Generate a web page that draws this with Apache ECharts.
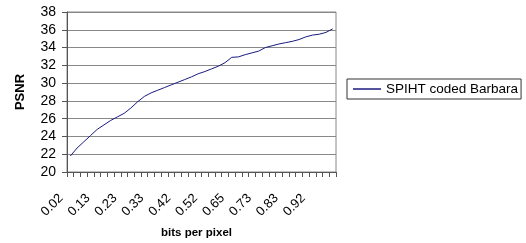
<!DOCTYPE html>
<html>
<head>
<meta charset="utf-8">
<script src="https://cdn.jsdelivr.net/npm/echarts@6/dist/echarts.min.js"></script>
<style>html,body{margin:0;padding:0;background:#fff}#c{width:526px;height:243px}</style>
</head>
<body>
<div id="c"></div>
<script>
var categories = ['0.02','0.05','0.08','0.10','0.13','0.15','0.18','0.20','0.23','0.25',
  '0.28','0.30','0.33','0.35','0.38','0.40','0.42','0.45','0.47','0.50',
  '0.52','0.55','0.58','0.62','0.65','0.67','0.69','0.71','0.73','0.76',
  '0.78','0.81','0.83','0.85','0.88','0.90','0.92','0.95','0.97','1.00'];
var psnr = [21.8,22.7,23.4,24.1,24.8,25.3,25.8,26.2,26.6,27.2,
  27.9,28.5,28.9,29.2,29.5,29.8,30.1,30.4,30.7,31.05,
  31.3,31.6,31.9,32.3,32.9,32.95,33.2,33.4,33.6,34.0,
  34.2,34.4,34.55,34.7,34.9,35.2,35.4,35.5,35.7,36.1];
var seriesName = 'SPIHT coded Barbara';
var yMin = 20, yMax = 38, yStep = 2;

var chart = echarts.init(document.getElementById('c'), null, {renderer: 'canvas'});
var FONT = 'Liberation Sans, Arial, sans-serif';
chart.setOption({
  animation: false,
  backgroundColor: '#fff',
  grid: {left: 67, top: 12, width: 269, height: 160, show: true, borderColor: '#888', borderWidth: 1,
         containLabel: false, outerBoundsMode: 'none'},
  legend: {
    left: 347, top: 79, orient: 'vertical',
    data: [seriesName],
    icon: 'rect', itemWidth: 28, itemHeight: 1.5,
    padding: [3, 3, 3, 6],
    borderColor: '#333', borderWidth: 1, borderRadius: 0,
    textStyle: {fontFamily: FONT, fontSize: 13.5, color: '#000'}
  },
  xAxis: {
    type: 'category', data: categories, boundaryGap: true,
    name: 'bits per pixel', nameLocation: 'middle', nameGap: 55,
    nameTextStyle: {fontFamily: FONT, fontSize: 11.5, fontWeight: 'bold', color: '#000', padding: [0, 10, 0, 0]},
    axisLine: {lineStyle: {color: '#555', width: 1}},
    axisTick: {show: true, interval: 0, length: 5, inside: false, lineStyle: {color: '#555'}},
    axisLabel: {interval: 3, rotate: 45, margin: 15, fontFamily: FONT, fontSize: 13, color: '#000',
                padding: [0, 13, 0, 0], hideOverlap: false},
    splitLine: {show: false}
  },
  yAxis: {
    type: 'value', min: yMin, max: yMax, interval: yStep,
    name: 'PSNR', nameLocation: 'middle', nameRotate: 90, nameGap: 40,
    nameTextStyle: {fontFamily: FONT, fontSize: 13, fontWeight: 'bold', color: '#000'},
    axisLine: {show: true, lineStyle: {color: '#555', width: 1}},
    axisTick: {show: true, length: 5, lineStyle: {color: '#555'}},
    axisLabel: {margin: 11, fontFamily: FONT, fontSize: 14, color: '#000'},
    splitLine: {show: true, lineStyle: {color: '#888', width: 1}}
  },
  series: [{
    name: seriesName, type: 'line', data: psnr,
    showSymbol: false, symbol: 'none',
    lineStyle: {color: '#1a1a80', width: 1},
    itemStyle: {color: '#1a1a80'}
  }]
});
</script>
</body>
</html>
